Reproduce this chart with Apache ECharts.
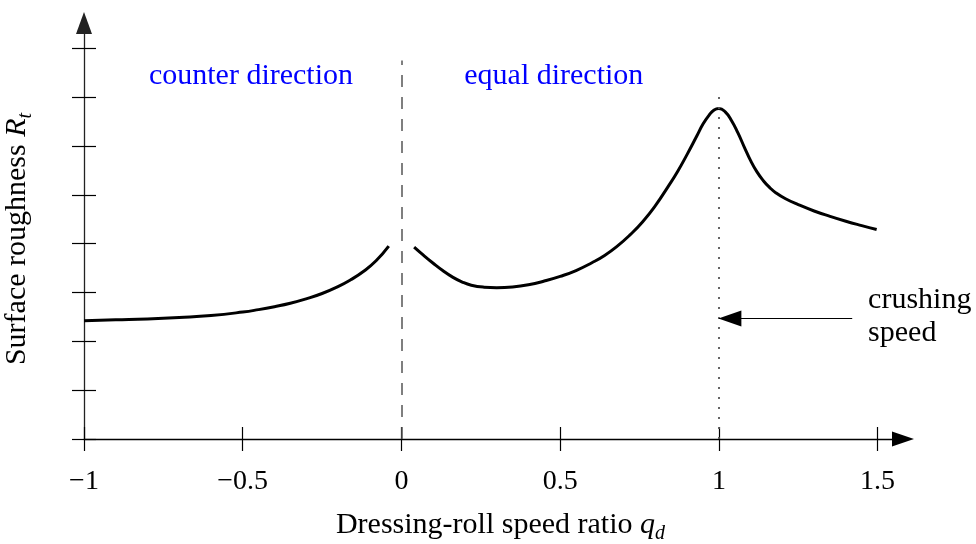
<!DOCTYPE html>
<html style="height: 100%">
<head>
    <meta charset="utf-8">
</head>
<body style="height: 100%; margin: 0">
<div id="container" style="height: 100%"></div>
<script type="text/javascript" src="https://cdn.jsdelivr.net/npm/echarts@6/dist/echarts.min.js"></script>
<script type="text/javascript">
var dom = document.getElementById("container");
var myChart = echarts.init(dom);

// axis ticks
var xTicks = [-1, -0.5, 0, 0.5, 1, 1.5];
var yTicks = [0, 1, 2, 3, 4, 5, 6, 7, 8];

// counter direction branch (q_d < 0)
var counterX = [-1, -0.9, -0.8, -0.7, -0.6, -0.5, -0.45, -0.4, -0.35, -0.3, -0.25, -0.2, -0.16, -0.12, -0.08, -0.04];
var counterY = [2.42, 2.44, 2.46, 2.49, 2.53, 2.60, 2.65, 2.71, 2.78, 2.87, 2.98, 3.12, 3.26, 3.43, 3.65, 3.95];

// equal direction branch (q_d > 0)
var equalX = [0.04, 0.07, 0.10, 0.13, 0.16, 0.19, 0.22, 0.26, 0.30, 0.35, 0.40, 0.45, 0.50, 0.55, 0.60, 0.64,
              0.68, 0.72, 0.76, 0.80, 0.84, 0.87, 0.90, 0.93, 0.95, 0.97, 0.985, 1.00, 1.02, 1.04, 1.06, 1.08,
              1.10, 1.12, 1.14, 1.16, 1.18, 1.21, 1.25, 1.30, 1.35, 1.40, 1.45, 1.497];
var equalY = [3.93, 3.76, 3.60, 3.45, 3.32, 3.22, 3.15, 3.11, 3.10, 3.115, 3.16, 3.235, 3.33, 3.45, 3.61, 3.76,
              3.95, 4.18, 4.45, 4.78, 5.17, 5.48, 5.83, 6.20, 6.45, 6.64, 6.74, 6.77, 6.70, 6.52, 6.27, 5.98,
              5.70, 5.47, 5.29, 5.15, 5.04, 4.92, 4.80, 4.67, 4.56, 4.46, 4.37, 4.29];

// annotations
var noteNames = ['counter direction', 'equal direction'];
var noteX = [-0.474, 0.48];
var noteY = [7.43, 7.43];
var crushX = [1.0, 1.42];     // arrow tip, arrow tail
var crushY = 2.47;
var crushText = 'crushing\nspeed';
var crushTextPos = [1.47, 2.50];
var zeroLineTop = 7.75;
var crushLineTop = 7.03;

function pairs(xs, ys) {
    return xs.map(function (x, i) { return [x, ys[i]]; });
}

var font = 'Liberation Serif';
var xMin = -1, xMax = 1.58, yMin = 0, yMax = 8.52;
var gridBox = {left: 84, right: 73, top: 23, bottom: 105, outerBoundsMode: 'none', containLabel: false};

var nameRich = {
    n: {fontSize: 30, fontFamily: font, color: '#000', lineHeight: 38},
    i: {fontSize: 30, fontFamily: font, fontStyle: 'italic', color: '#000', lineHeight: 38},
    s: {fontSize: 20, fontFamily: font, fontStyle: 'italic', color: '#000', lineHeight: 20, verticalAlign: 'bottom'}
};

option = {
    animation: false,
    textStyle: {fontFamily: font},
    grid: [
        Object.assign({}, gridBox),
        Object.assign({}, gridBox)
    ],
    xAxis: [
        {
            gridIndex: 0,
            type: 'value', min: xMin, max: xMax,
            axisLine: {show: true, onZero: false, symbol: ['none', 'triangle'], symbolSize: [15, 22],
                lineStyle: {color: '#000', width: 1.3}},
            axisTick: {show: true, inside: false, length: 12, customValues: xTicks,
                lineStyle: {color: '#000', width: 1.2}},
            axisLabel: {show: true, customValues: xTicks, margin: 29, fontSize: 28, color: '#000',
                fontFamily: font,
                formatter: function (v) { return String(v).replace('-', '\u2212'); }},
            splitLine: {show: false},
            name: '{n|Dressing-roll speed ratio }{i|q}{s|d}',
            nameLocation: 'middle',
            nameGap: 67,
            nameTextStyle: {padding: [0, 0, 0, 14], rich: nameRich}
        },
        {
            gridIndex: 1,
            type: 'value', min: xMin, max: xMax,
            axisLine: {show: false, onZero: false},
            axisTick: {show: true, inside: true, length: 12, customValues: xTicks,
                lineStyle: {color: '#000', width: 1.2}},
            axisLabel: {show: false},
            splitLine: {show: false}
        }
    ],
    yAxis: [
        {
            gridIndex: 0,
            type: 'value', min: yMin, max: yMax,
            axisLine: {show: true, onZero: false, symbol: ['none', 'triangle'], symbolSize: [16, 22],
                lineStyle: {color: '#222', width: 1.3}},
            axisTick: {show: true, inside: false, length: 12, customValues: yTicks,
                lineStyle: {color: '#000', width: 1.2}},
            axisLabel: {show: false},
            splitLine: {show: false},
            name: '{n|Surface roughness }{i|R}{s|t}',
            nameLocation: 'middle',
            nameRotate: 90,
            nameGap: 48,
            nameTextStyle: {padding: [0, 16, 0, 0], rich: nameRich}
        },
        {
            gridIndex: 1,
            type: 'value', min: yMin, max: yMax,
            axisLine: {show: false, onZero: false},
            axisTick: {show: true, inside: true, length: 12, customValues: yTicks,
                lineStyle: {color: '#000', width: 1.2}},
            axisLabel: {show: false},
            splitLine: {show: false}
        }
    ],
    series: [
        {
            name: 'counter',
            type: 'line',
            smooth: 0.5,
            symbol: 'none',
            lineStyle: {color: '#000', width: 3},
            data: pairs(counterX, counterY)
        },
        {
            name: 'equal',
            type: 'line',
            smooth: 0.5,
            symbol: 'none',
            lineStyle: {color: '#000', width: 3},
            data: pairs(equalX, equalY)
        },
        {
            name: 'guides',
            type: 'line',
            data: [],
            markLine: {
                silent: true,
                symbol: 'none',
                label: {show: false},
                data: [
                    [{coord: [0, 0], lineStyle: {type: [12, 10], color: '#555', width: 1.5}},
                     {coord: [0, zeroLineTop]}],
                    [{coord: [1, 0], lineStyle: {type: [2, 8], color: '#555', width: 1.8}},
                     {coord: [1, crushLineTop]}],
                    [{coord: [crushX[1], crushY], lineStyle: {type: 'solid', color: '#000', width: 1.2}},
                     {coord: [crushX[0], crushY]}]
                ]
            }
        },
        {
            // arrow head of the crushing speed pointer
            name: 'crush head',
            type: 'scatter',
            silent: true,
            symbol: 'triangle',
            symbolSize: [16, 23],
            symbolRotate: 90,
            symbolOffset: [11, 0],
            itemStyle: {color: '#000', opacity: 1},
            data: [[crushX[0], crushY]]
        },
        {
            name: 'notes',
            type: 'scatter',
            symbolSize: 0,
            silent: true,
            itemStyle: {opacity: 1},
            label: {
                show: true, position: 'inside', color: '#0000ff', fontSize: 30, fontFamily: font,
                textBorderWidth: 0,
                formatter: function (p) { return p.name; }
            },
            data: noteNames.map(function (n, i) { return {name: n, value: [noteX[i], noteY[i]]}; })
        },
        {
            name: 'crush note',
            type: 'scatter',
            symbolSize: 0,
            silent: true,
            itemStyle: {opacity: 1},
            label: {
                show: true, position: 'inside', align: 'left', color: '#000', fontSize: 30,
                fontFamily: font, lineHeight: 33, textBorderWidth: 0,
                formatter: function (p) { return p.name; }
            },
            data: [{name: crushText, value: crushTextPos}]
        }
    ]
};

if (option && typeof option === "object") {
    myChart.setOption(option, true);
}
</script>
</body>
</html>
